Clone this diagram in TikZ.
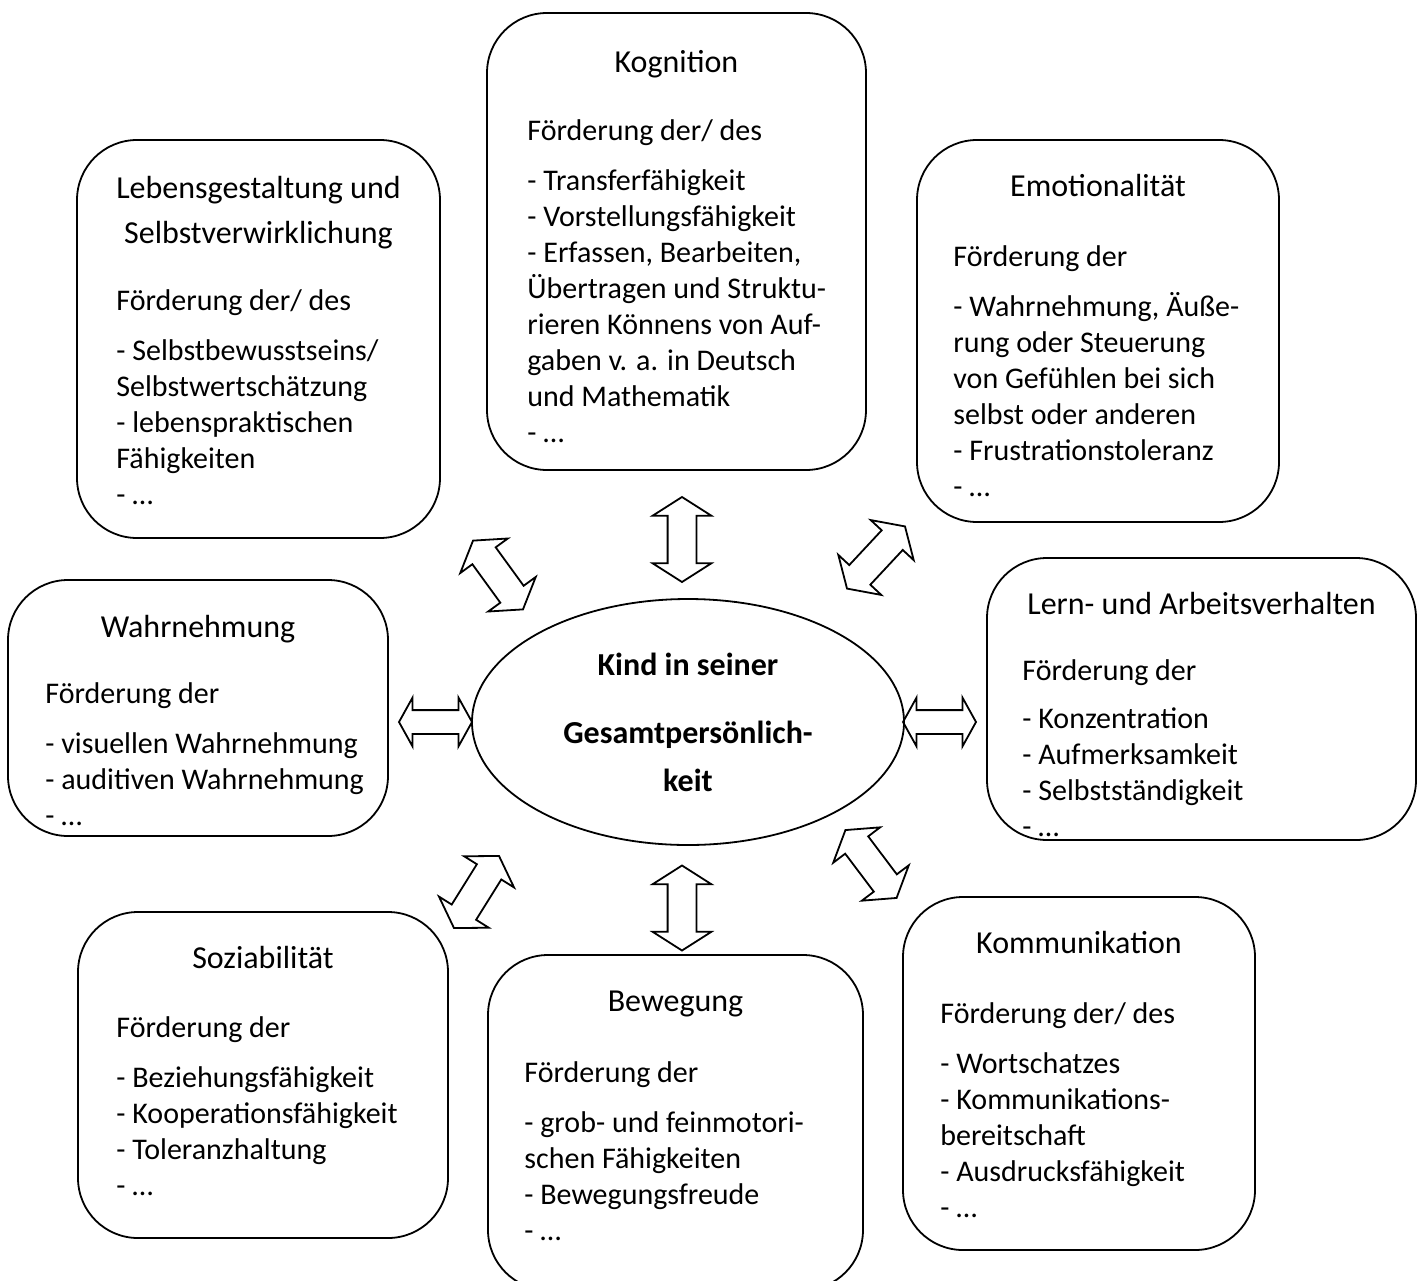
\documentclass[tikz,border=0pt]{standalone}
\usepackage{fontspec}
\setmainfont{Carlito}
\usetikzlibrary{shapes.geometric,shapes.arrows,positioning}

\begin{document}
\begin{tikzpicture}[x=0.5pt, y=-0.5pt,
    feld/.style={draw, line width=0.9pt, rounded corners=30pt, inner sep=0pt},
    titel/.style={font=\fontsize{16}{19}\selectfont, align=center, anchor=north, inner sep=0pt, execute at begin node=\strut},
    liste/.style={font=\fontsize{15}{18}\selectfont, align=left, anchor=north west, inner sep=0pt, execute at begin node=\strut},
    pfeil/.style={double arrow, draw, line width=0.9pt, inner xsep=0pt, inner ysep=6.75pt, double arrow head extend=7.5pt, double arrow tip angle=115, minimum height=42.5pt},
    querpfeil/.style={pfeil, inner ysep=5.5pt, double arrow head extend=6.25pt, double arrow tip angle=122, minimum height=36.5pt}]
\useasboundingbox (0,0) rectangle (1424,1280);

% Felder
\node [feld, minimum width=189.5pt, minimum height=228.5pt] (kog) at (676.5,241.5) {};
\node [feld, minimum width=181.5pt, minimum height=199pt] (leb) at (258.5,339) {};
\node [feld, minimum width=181pt, minimum height=191pt] (emo) at (1098,331) {};
\node [feld, minimum width=190pt, minimum height=128pt] (wahr) at (198,708) {};
\node [feld, minimum width=214.5pt, minimum height=141pt] (lern) at (1201.5,699) {};
\node [feld, minimum width=185pt, minimum height=163pt] (soz) at (263,1075) {};
\node [feld, minimum width=187.5pt, minimum height=167.5pt] (bew) at (675.5,1122.5) {};
\node [feld, minimum width=176pt, minimum height=176.5pt] (kom) at (1079,1073.5) {};

% Mitte
\node [draw, ellipse, line width=0.9pt, minimum width=216pt, minimum height=123pt, inner sep=0pt, align=center,
    font=\bfseries\fontsize{16}{24}\selectfont] (kind) at (688,722) {Kind in seiner\\[10pt]Gesamtpersönlich-\\keit};

% Ueberschriften
\node [titel, below=16.5pt of kog.north] (kogT) {Kognition};
\node [titel, font=\fontsize{16}{22.5}\selectfont, below=18.5pt of leb.north] (lebT) {Lebensgestaltung und\\Selbstverwirklichung};
\node [titel, below=15pt of emo.north] (emoT) {Emotionalität};
\node [titel, below=15.5pt of wahr.north] (wahrT) {Wahrnehmung};
\node [titel, below=15pt of lern.north] (lernT) {Lern- und Arbeitsverhalten};
\node [titel, below=15pt of soz.north] (sozT) {Soziabilität};
\node [titel, below=15pt of bew.north] (bewT) {Bewegung};
\node [titel, below=15pt of kom.north] (komT) {Kommunikation};

% Inhalte
\node [liste] (kogL) at (527,119) {Förderung der/ des\\[7pt]- Transferfähigkeit\\- Vorstellungsfähigkeit\\- Erfassen, Bearbeiten,\\Übertragen und Struktu-\\rieren Könnens von Auf-\\gaben v. a. in Deutsch\\und Mathematik\\- …};
\node [liste] (lebL) at (116,289) {Förderung der/ des\\[7pt]- Selbstbewusstseins/\\Selbstwertschätzung\\- lebenspraktischen\\Fähigkeiten\\- …};
\node [liste] (emoL) at (953,245) {Förderung der\\[7pt]- Wahrnehmung, Äuße-\\rung oder Steuerung\\von Gefühlen bei sich\\selbst oder anderen\\- Frustrationstoleranz\\- …};
\node [liste] (wahrL) at (45,682) {Förderung der\\[7pt]- visuellen Wahrnehmung\\- auditiven Wahrnehmung\\- …};
\node [liste] (lernL) at (1022,659) {Förderung der\\[6pt]- Konzentration\\- Aufmerksamkeit\\- Selbstständigkeit\\- …};
\node [liste] (sozL) at (116,1016) {Förderung der\\[7pt]- Beziehungsfähigkeit\\- Kooperationsfähigkeit\\- Toleranzhaltung\\- …};
\node [liste] (bewL) at (524,1061) {Förderung der\\[7pt]- grob- und feinmotori-\\schen Fähigkeiten\\- Bewegungsfreude\\- …};
\node [liste] (komL) at (940,1002) {Förderung der/ des\\[7pt]- Wortschatzes\\- Kommunikations-\\bereitschaft\\- Ausdrucksfähigkeit\\- …};

% Pfeile
\node [pfeil, rotate=90] (p1) at (682,539.5) {};
\node [pfeil, rotate=90] (p2) at (682,908) {};
\node [pfeil, rotate=-54] (p3) at (498,575) {};
\node [pfeil, rotate=47] (p4) at (876,557.5) {};
\node [pfeil, rotate=58] (p5) at (476.5,892) {};
\node [pfeil, rotate=-53] (p6) at (871,864) {};
\node [querpfeil] (p7) at (435.5,722) {};
\node [querpfeil] (p8) at (939.5,722) {};
\end{tikzpicture}
\end{document}
